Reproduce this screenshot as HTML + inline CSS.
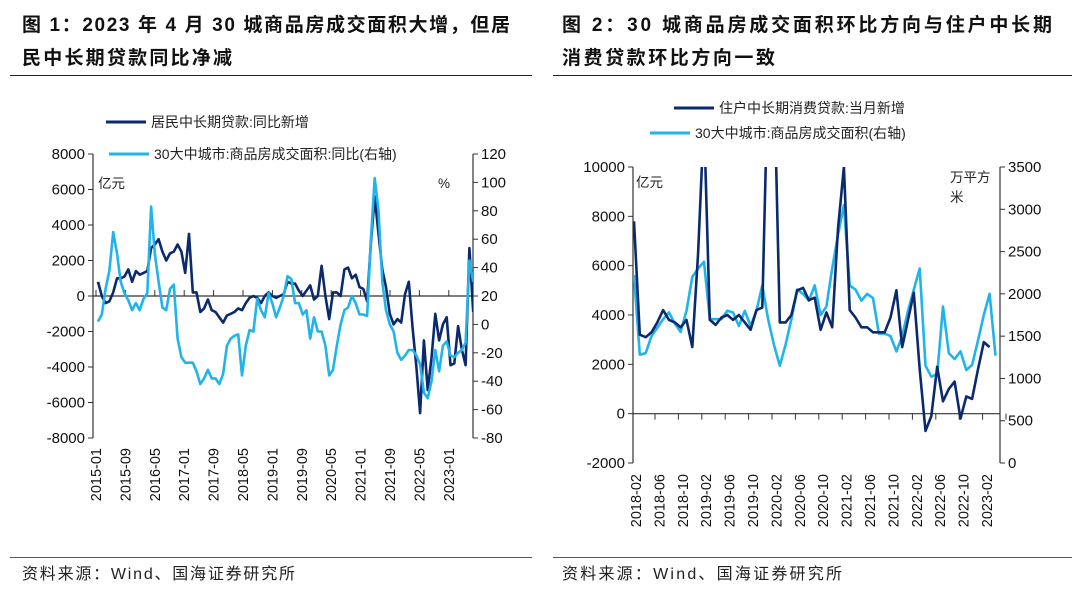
<!DOCTYPE html>
<html><head><meta charset="utf-8">
<style>
body{margin:0;background:#fff;width:1080px;height:593px;overflow:hidden;font-family:"Liberation Sans","Noto Sans CJK SC",sans-serif;}
svg text{font-family:"Liberation Sans","Noto Sans CJK SC",sans-serif;}
</style></head>
<body>
<svg id="root" width="1080" height="593" viewBox="0 0 1080 593" xmlns="http://www.w3.org/2000/svg">
<g font-weight="bold" font-size="19" fill="#111">
<text x="22" y="31" textLength="488" lengthAdjust="spacing">图 1：2023 年 4 月 30 城商品房成交面积大增，但居</text>
<text x="22" y="64" textLength="210" lengthAdjust="spacing">民中长期贷款同比净减</text>
</g>
<g font-weight="bold" font-size="19" fill="#111">
<text x="562" y="31" textLength="490" lengthAdjust="spacing">图 2：30 城商品房成交面积环比方向与住户中长期</text>
<text x="562" y="64" textLength="213" lengthAdjust="spacing">消费贷款环比方向一致</text>
</g>
<line x1="10" y1="75.5" x2="532" y2="75.5" stroke="#222"/>
<line x1="553" y1="75.5" x2="1072" y2="75.5" stroke="#222"/>
<line x1="10" y1="557.5" x2="532" y2="557.5" stroke="#555"/>
<line x1="553" y1="557.5" x2="1072" y2="557.5" stroke="#555"/>
<text x="22" y="579" font-size="16" fill="#222" textLength="273" lengthAdjust="spacing">资料来源：Wind、国海证券研究所</text>
<text x="562" y="579" font-size="16" fill="#222" textLength="280" lengthAdjust="spacing">资料来源：Wind、国海证券研究所</text>
<g id="c1"></g>
<g id="c2"></g>
</svg>
<script>
// Chart 1 data
const c1Labels = ["2015-01","2015-09","2016-05","2017-01","2017-09","2018-05","2019-01","2019-09","2020-05","2021-01","2021-09","2022-05","2023-01"];
const c1LeftTicks = [8000,6000,4000,2000,0,-2000,-4000,-6000,-8000];
const c1RightTicks = [120,100,80,60,40,20,0,-20,-40,-60,-80];
const c1Loans = [800,0,-400,-300,200,1000,1000,1100,1500,800,1400,1200,1300,1400,2700,2900,3200,2500,2000,2400,2500,2900,2500,1300,3500,200,200,-900,-700,-200,-800,-900,-1200,-1500,-1100,-1000,-900,-700,-800,-400,-100,0,-100,-400,0,200,0,-100,0,100,800,700,700,300,0,300,600,-200,0,1700,0,-1300,200,200,0,1500,1600,1000,1200,500,400,-300,3000,5600,3500,1500,500,-1000,-1600,-1300,-1500,100,800,-1800,-4000,-6600,-2500,-5300,-3500,-1000,-2500,-1600,-1200,-3900,-3800,-1700,-3000,-3900,2700,-900];
const c1Area = [2,7,25,38,65,50,30,22,17,10,15,10,18,22,83,50,30,12,10,25,28,-10,-23,-27,-27,-27,-33,-42,-38,-32,-38,-38,-42,-35,-15,-10,-8,-7,-36,-15,-4,-5,18,10,5,22,15,5,12,20,34,32,15,15,7,10,-10,5,-5,-5,-15,-36,-32,-15,0,10,12,20,15,7,7,6,60,103,80,30,10,0,-5,-20,-25,-22,-18,-18,-22,-28,-48,-52,-40,-18,-33,-15,-12,-22,-23,-20,-18,-13,45,30];
// Chart 2 data
const c2Labels = ["2018-02","2018-06","2018-10","2019-02","2019-06","2019-10","2020-02","2020-06","2020-10","2021-02","2021-06","2021-10","2022-02","2022-06","2022-10","2023-02"];
const c2LeftTicks = [10000,8000,6000,4000,2000,0,-2000];
const c2RightTicks = [3500,3000,2500,2000,1500,1000,500,0];
const c2Loans = [7800,3200,3100,3300,3700,4200,3800,3700,3500,3800,2700,6500,12000,3800,3600,3900,4000,3800,4000,3700,3400,4200,4300,14000,14000,3700,3700,4000,5000,5100,4600,4700,3400,4100,3500,7500,10000,4200,3900,3500,3500,3300,3300,3300,3900,5000,2700,3800,4900,1800,-700,-100,1900,500,1000,1300,-200,700,600,1800,2900,2700];
const c2Area = [2225,1280,1300,1500,1600,1700,1780,1650,1550,1800,2200,2300,2380,1700,1700,1700,1800,1780,1620,1800,1620,1800,2100,1700,1400,1150,1400,1700,2050,2000,1920,2100,1750,1850,2300,2700,3050,2100,2050,1920,2000,1950,1530,1530,1500,1320,1500,1800,2050,2300,1150,1020,1050,1850,1300,1230,1320,1100,1160,1450,1750,2000,1270];

const NS="http://www.w3.org/2000/svg";
const DARK="#0b2a6e", LIGHT="#20b4ea";
function mk(tag,attrs,parent){const e=document.createElementNS(NS,tag);for(const k in attrs)e.setAttribute(k,attrs[k]);parent.appendChild(e);return e;}

function chart(g,cfg){
  const yL=v=>cfg.top+(cfg.lMax-v)/(cfg.lMax-cfg.lMin)*(cfg.bot-cfg.top);
  const yR=v=>cfg.top+(cfg.rMax-v)/(cfg.rMax-cfg.rMin)*(cfg.bot-cfg.top);
  const x=i=>cfg.x0+cfg.dx*i;
  const la=mk('line',{x1:cfg.ax,y1:cfg.top,x2:cfg.ax,y2:cfg.bot,stroke:'#333','stroke-width':1.2},g);
  
  
  const ra=mk('line',{x1:cfg.rx,y1:cfg.top,x2:cfg.rx,y2:cfg.bot,stroke:'#333','stroke-width':1.2},g);
  
  
  const z=yL(0);
  const za=mk('line',{x1:cfg.ax,y1:z,x2:cfg.rx,y2:z,stroke:'#333','stroke-width':1.2},g);
  
  
  cfg.lTicks.forEach(v=>{
    mk('line',{x1:cfg.ax-5,y1:yL(v),x2:cfg.ax,y2:yL(v),stroke:'#333'},g);
    const t=mk('text',{x:cfg.ax-8,y:yL(v)+5,'text-anchor':'end','font-size':15,fill:'#111'},g);
    t.textContent=v;
    
    
  });
  cfg.rTicks.forEach(v=>{
    mk('line',{x1:cfg.rx,y1:yR(v),x2:cfg.rx+5,y2:yR(v),stroke:'#333'},g);
    const t=mk('text',{x:cfg.rx+8,y:yR(v)+5,'font-size':15,fill:'#111'},g);
    t.textContent=v;
    
    
  });
  cfg.labels.forEach((s,k)=>{
    const lx=cfg.lab0+cfg.labDx*k;
    mk('line',{x1:lx+cfg.tickOff,y1:z,x2:lx+cfg.tickOff,y2:z+cfg.tickLen,stroke:'#333'},g);
    const t=mk('text',{x:0,y:0,'font-size':14.5,fill:'#111','text-anchor':'end',transform:`translate(${lx+5},${cfg.labY}) rotate(-90)`},g);
    t.textContent=s;
    
    
  });
  const cid='clip'+cfg.id;
  const cp=mk('clipPath',{id:cid},g);
  mk('rect',{x:cfg.ax,y:cfg.top,width:cfg.rx-cfg.ax,height:cfg.bot-cfg.top},cp);
  const dL=cfg.loans.map((v,i)=>(i?'L':'M')+x(i).toFixed(1)+','+yL(v).toFixed(1)).join('');
  const dR=cfg.area.map((v,i)=>(i?'L':'M')+x(i).toFixed(1)+','+yR(v).toFixed(1)).join('');
  const order=cfg.lightOnTop?[[dL,DARK,'loans-line'],[dR,LIGHT,'area-line']]:[[dR,LIGHT,'area-line'],[dL,DARK,'loans-line']];
  order.forEach(([d,c,n])=>{
    const p=mk('path',{d:d,fill:'none',stroke:c,'stroke-width':2.6,'stroke-linejoin':'round','clip-path':`url(#${cid})`},g);
    
    
  });
  cfg.legend.forEach(([lx,ly,c,txt])=>{
    const l=mk('line',{x1:lx,y1:ly,x2:lx+40,y2:ly,stroke:c,'stroke-width':3},g);
    
    
    const t=mk('text',{x:lx+45,y:ly+5,'font-size':14,fill:'#222'},g);
    t.textContent=txt;
    
    
  });
  cfg.units.forEach(([ux,uy,txt])=>{
    const t=mk('text',{x:ux,y:uy,'font-size':13.5,fill:'#222'},g);
    t.textContent=txt;
    
    
  });
}
const g1=document.getElementById('c1');


chart(g1,{id:1,top:154,bot:438,lMax:8000,lMin:-8000,rMax:120,rMin:-80,ax:93,rx:473,x0:98,dx:3.79,
  lTicks:c1LeftTicks,rTicks:c1RightTicks,labels:c1Labels,lab0:96,labDx:29.4,labY:448,tickOff:0,tickLen:-6,
  loans:c1Loans,area:c1Area,lightOnTop:true,
  legend:[[106,122,DARK,'居民中长期贷款:同比新增'],[109,154,LIGHT,'30大中城市:商品房成交面积:同比(右轴)']],
  units:[[98,188,'亿元'],[438,188,'%']]});
const g2=document.getElementById('c2');


chart(g2,{id:2,top:167,bot:463,lMax:10000,lMin:-2000,rMax:3500,rMin:0,ax:633,rx:1000,x0:634,dx:5.83,
  lTicks:c2LeftTicks,rTicks:c2RightTicks,labels:c2Labels,lab0:636,labDx:23.4,labY:474,tickOff:19,tickLen:6,
  loans:c2Loans,area:c2Area,lightOnTop:false,
  legend:[[674,108,DARK,'住户中长期消费贷款:当月新增'],[650,133,LIGHT,'30大中城市:商品房成交面积(右轴)']],
  units:[[636,187,'亿元'],[950,182,'万平方'],[950,202,'米']]});
</script>
</body></html>
